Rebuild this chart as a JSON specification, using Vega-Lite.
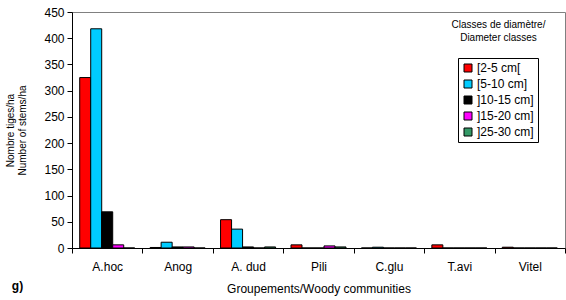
{
  "$schema": "https://vega.github.io/schema/vega-lite/v6.json",
  "width": 493,
  "height": 236,
  "autosize": {"type": "none"},
  "padding": {"left": 72, "top": 12, "right": 1, "bottom": 52},
  "background": "white",
  "config": {
    "font": "Liberation Sans",
    "view": {"stroke": "#808080", "strokeWidth": 1},
    "axis": {
      "domainColor": "black",
      "tickColor": "black",
      "labelColor": "black",
      "titleColor": "black",
      "labelFont": "Liberation Sans",
      "titleFont": "Liberation Sans",
      "grid": false
    }
  },
  "data": {
    "values": [
      {"group": "A.hoc", "cls": "[2-5 cm[", "value": 325},
      {"group": "A.hoc", "cls": "[5-10 cm]", "value": 418},
      {"group": "A.hoc", "cls": "]10-15 cm]", "value": 69},
      {"group": "A.hoc", "cls": "]15-20 cm]", "value": 6},
      {"group": "A.hoc", "cls": "]25-30 cm]", "value": 0},
      {"group": "Anog", "cls": "[2-5 cm[", "value": 1},
      {"group": "Anog", "cls": "[5-10 cm]", "value": 11},
      {"group": "Anog", "cls": "]10-15 cm]", "value": 2},
      {"group": "Anog", "cls": "]15-20 cm]", "value": 2},
      {"group": "Anog", "cls": "]25-30 cm]", "value": 0},
      {"group": "A. dud", "cls": "[2-5 cm[", "value": 54},
      {"group": "A. dud", "cls": "[5-10 cm]", "value": 36},
      {"group": "A. dud", "cls": "]10-15 cm]", "value": 2},
      {"group": "A. dud", "cls": "]15-20 cm]", "value": 0},
      {"group": "A. dud", "cls": "]25-30 cm]", "value": 2},
      {"group": "Pili", "cls": "[2-5 cm[", "value": 6},
      {"group": "Pili", "cls": "[5-10 cm]", "value": 0},
      {"group": "Pili", "cls": "]10-15 cm]", "value": 0},
      {"group": "Pili", "cls": "]15-20 cm]", "value": 4},
      {"group": "Pili", "cls": "]25-30 cm]", "value": 2},
      {"group": "C.glu", "cls": "[2-5 cm[", "value": 0},
      {"group": "C.glu", "cls": "[5-10 cm]", "value": 1.5},
      {"group": "C.glu", "cls": "]10-15 cm]", "value": 0},
      {"group": "C.glu", "cls": "]15-20 cm]", "value": 0},
      {"group": "C.glu", "cls": "]25-30 cm]", "value": 0},
      {"group": "T.avi", "cls": "[2-5 cm[", "value": 6},
      {"group": "T.avi", "cls": "[5-10 cm]", "value": 0},
      {"group": "T.avi", "cls": "]10-15 cm]", "value": 0},
      {"group": "T.avi", "cls": "]15-20 cm]", "value": 0},
      {"group": "T.avi", "cls": "]25-30 cm]", "value": 0},
      {"group": "Vitel", "cls": "[2-5 cm[", "value": 1.5},
      {"group": "Vitel", "cls": "[5-10 cm]", "value": 0},
      {"group": "Vitel", "cls": "]10-15 cm]", "value": 0},
      {"group": "Vitel", "cls": "]15-20 cm]", "value": 0},
      {"group": "Vitel", "cls": "]25-30 cm]", "value": 0}
    ]
  },
  "layer": [
    {
      "mark": {"type": "bar", "stroke": "black", "strokeWidth": 1},
      "encoding": {
        "x": {
          "field": "group",
          "type": "nominal",
          "sort": ["A.hoc", "Anog", "A. dud", "Pili", "C.glu", "T.avi", "Vitel"],
          "scale": {"paddingInner": 0, "paddingOuter": 0},
          "axis": {
            "title": "Groupements/Woody communities",
            "titleFontSize": 12,
            "titleFontWeight": "normal",
            "titleBaseline": "top",
            "titleY": 35,
            "labelAngle": 0,
            "labelFontSize": 12,
            "labelPadding": 8,
            "tickBand": "extent",
            "tickSize": 5,
            "domainWidth": 1
          }
        },
        "xOffset": {
          "field": "cls",
          "type": "nominal",
          "sort": ["[2-5 cm[", "[5-10 cm]", "]10-15 cm]", "]15-20 cm]", "]25-30 cm]"],
          "scale": {"paddingInner": 0, "paddingOuter": 0.7}
        },
        "y": {
          "field": "value",
          "type": "quantitative",
          "scale": {"domain": [0, 450], "nice": false},
          "axis": {
            "values": [0, 50, 100, 150, 200, 250, 300, 350, 400, 450],
            "labelOverlap": false,
            "title": ["Nombre tiges/ha", "Number of stems/ha"],
            "titleFontSize": 10,
            "titleFontWeight": "normal",
            "titleAngle": -90,
            "titleBaseline": "bottom",
            "titleLineHeight": 12,
            "titleX": -57,
            "titleY": 118,
            "labelFontSize": 12,
            "labelPadding": 3,
            "tickSize": 5
          }
        },
        "color": {
          "field": "cls",
          "type": "nominal",
          "scale": {
            "domain": ["[2-5 cm[", "[5-10 cm]", "]10-15 cm]", "]15-20 cm]", "]25-30 cm]"],
            "range": ["#FF0000", "#00CCFF", "#000000", "#FF00FF", "#339966"]
          },
          "legend": {
            "title": null,
            "orient": "none",
            "legendX": 386,
            "legendY": 46,
            "strokeColor": "black",
            "fillColor": "white",
            "padding": 4,
            "symbolType": "square",
            "symbolSize": 64,
            "symbolStrokeColor": "black",
            "symbolStrokeWidth": 1,
            "symbolOpacity": 1,
            "labelFontSize": 12,
            "labelColor": "black",
            "labelOffset": 3,
            "rowPadding": 4,
            "labelFont": "Liberation Sans"
          }
        }
      }
    },
    {
      "mark": {"type": "bar", "opacity": 0},
      "encoding": {
        "x": {
          "field": "group",
          "type": "nominal",
          "sort": ["A.hoc", "Anog", "A. dud", "Pili", "C.glu", "T.avi", "Vitel"],
          "axis": {
            "orient": "bottom",
            "title": "g)",
            "labels": false,
            "ticks": false,
            "domain": false,
            "titleFontSize": 12,
            "titleFontWeight": "bold",
            "titleBaseline": "top",
            "titleX": -55,
            "titleY": 32
          }
        }
      }
    },
    {
      "mark": {"type": "bar", "opacity": 0},
      "encoding": {
        "x": {
          "field": "group",
          "type": "nominal",
          "sort": ["A.hoc", "Anog", "A. dud", "Pili", "C.glu", "T.avi", "Vitel"],
          "axis": {
            "orient": "top",
            "title": ["Classes de diamètre/", "Diameter classes"],
            "labels": false,
            "ticks": false,
            "domain": false,
            "titleFontSize": 10,
            "titleFontWeight": "normal",
            "titleBaseline": "top",
            "titleAlign": "center",
            "titleLineHeight": 13,
            "titleX": 426,
            "titleY": 7
          }
        }
      }
    }
  ],
  "resolve": {"axis": {"x": "independent"}}
}
